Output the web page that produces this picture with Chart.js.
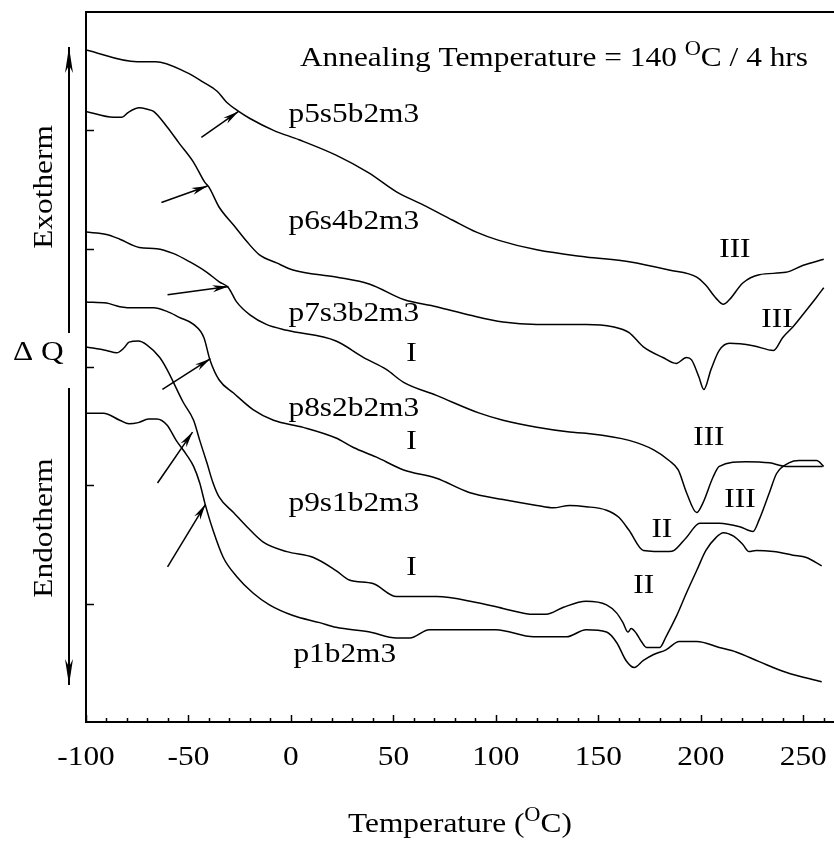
<!DOCTYPE html>
<html>
<head>
<meta charset="utf-8">
<script src="https://cdn.jsdelivr.net/npm/chart.js@4.4.1/dist/chart.umd.min.js"></script>
<style>
  html, body { margin: 0; padding: 0; background: #fff; }
  #wrap { width: 834px; height: 841px; }
</style>
</head>
<body>
<div id="wrap"><canvas id="dscChart" width="834" height="841"></canvas></div>
<script>
// axis ticks
const tempTicks = [-100, -50, 0, 50, 100, 150, 200, 250];
const heatTicks = [10, 20, 30, 40, 50];

// DSC traces, temperature (C) and heat flow (arbitrary, shifted per sample)
const tP5S5 = [-100, -75, -66, -51, -43, -36, -31.5, -25.5, -20, -8.5, 4, 22, 38, 51.5, 64.5, 79, 90.5, 101.5, 120, 144, 165, 184.5, 198, 202.5, 207.5, 211, 214, 220.5, 228.5, 241.5, 250, 260];
const qP5S5 = [56.8, 55.8, 55.8, 54.9, 54.1, 53.3, 52.4, 51.6, 51.0, 50.0, 49.2, 47.9, 46.4, 44.8, 43.7, 42.4, 41.4, 40.7, 39.9, 39.3, 38.9, 38.2, 37.6, 36.9, 35.8, 35.3, 35.7, 37.1, 37.8, 38.0, 38.6, 39.1];

const tP6S4 = [-100, -86.5, -82.5, -79.5, -74, -70.5, -67, -60.5, -54.5, -47.5, -42, -40, -35, -28, -21.5, -15.5, -7, 1, 22, 38.5, 55, 71, 87, 103.5, 120, 144, 157, 165, 172, 181.5, 188, 193, 195.5, 199, 201.5, 205, 209, 214, 225.5, 235.5, 240, 245, 251.5, 256.5, 260];
const qP6S4 = [51.6, 51.1, 51.1, 51.5, 51.9, 51.8, 51.6, 50.3, 48.9, 47.3, 45.6, 45.2, 43.5, 42.0, 40.6, 39.5, 38.8, 38.2, 37.6, 37.0, 35.7, 35.1, 34.4, 33.8, 33.6, 33.6, 33.4, 32.9, 31.7, 30.8, 30.3, 30.8, 30.6, 29.2, 28.1, 29.8, 31.4, 32.0, 31.8, 31.4, 32.5, 33.4, 34.8, 35.9, 36.7];

const tP7S3 = [-100, -90, -83.5, -74, -65.5, -57.5, -49.5, -41, -35, -30.5, -26.5, -20, -12, -2, 22, 35.5, 46.5, 55, 71, 92, 103.5, 120, 136, 144, 165, 177, 184.5, 189, 193, 198, 201, 206, 209, 222, 233.5, 241.5, 251, 259.5];
const qP7S3 = [41.4, 41.2, 40.8, 40.1, 40.0, 39.6, 38.9, 38.0, 37.2, 36.7, 35.5, 34.4, 33.6, 33.1, 32.2, 30.8, 29.8, 28.7, 27.6, 26.1, 25.5, 24.9, 24.5, 24.4, 23.8, 23.0, 22.1, 21.3, 19.4, 17.7, 18.5, 20.7, 21.6, 22.0, 21.9, 21.6, 21.6, 21.6];

const tP8S2 = [-100, -90, -83.5, -75.5, -67, -60.5, -54.5, -47.5, -42.5, -39.5, -35, -28, -18.5, -8.5, 6, 22, 30.5, 41.5, 55, 71, 87, 103.5, 120, 128, 136, 144, 154, 160, 165, 172, 184.5, 187, 193, 199.5, 209, 219, 225.5, 228.5, 233.5, 237, 243, 248, 256.5, 260];
const qP8S2 = [35.5, 35.4, 35.1, 35.0, 35.0, 34.7, 34.2, 33.6, 32.5, 30.6, 28.9, 27.8, 26.4, 25.5, 24.9, 24.0, 23.2, 22.4, 21.3, 20.6, 19.4, 18.8, 18.3, 18.1, 18.3, 18.2, 17.9, 17.3, 16.2, 14.5, 14.4, 14.5, 15.6, 16.8, 16.8, 16.5, 16.1, 17.1, 19.4, 21.0, 21.9, 22.1, 22.1, 21.6];

const tP9S1 = [-100, -90, -85, -81.5, -79, -74.5, -70.5, -64, -60.5, -52.5, -47.5, -44.5, -41, -38, -35, -28, -21.5, -13.5, -2, 11, 22, 28.5, 40, 51.5, 71, 90.5, 103.5, 118.5, 124.5, 133, 144, 154, 159, 162, 164.5, 166, 168.5, 171, 173.5, 180, 183, 188, 193, 198, 202.5, 207.5, 211, 216, 220.5, 223.5, 227, 235.5, 245, 251.5, 259];
const qP9S1 = [31.7, 31.4, 31.2, 31.6, 32.1, 32.2, 31.9, 30.8, 29.8, 27.0, 25.5, 23.8, 21.9, 20.2, 19.0, 17.7, 16.5, 15.2, 14.4, 13.9, 12.8, 12.0, 11.7, 10.6, 10.6, 10.1, 9.6, 9.1, 9.1, 9.7, 10.2, 9.9, 9.2, 8.4, 7.6, 7.9, 7.5, 6.8, 6.3, 6.3, 7.2, 8.9, 10.9, 12.8, 14.5, 15.6, 16.0, 15.7, 15.0, 14.4, 14.5, 14.4, 14.1, 13.9, 13.2];

const tP1 = [-100, -91.5, -83.5, -79, -74.5, -69.5, -65.5, -60.5, -56, -51, -47.5, -44.5, -42, -38, -33, -26.5, -18.5, -10.5, 1, 14, 22, 38.5, 51.5, 58, 67.5, 100, 118.5, 134.5, 144, 154, 159, 163.5, 167.5, 172, 177, 183, 189.5, 198, 209, 217.5, 228.5, 241.5, 259];
const qP1 = [26.1, 26.1, 25.5, 25.2, 25.3, 25.6, 25.6, 25.1, 23.8, 22.6, 21.6, 20.2, 18.5, 16.2, 13.9, 12.3, 10.9, 9.9, 9.0, 8.4, 8.0, 7.6, 7.1, 7.1, 7.8, 7.8, 7.2, 7.2, 7.8, 7.6, 6.7, 5.2, 4.6, 5.2, 5.7, 6.1, 6.8, 6.8, 6.3, 5.9, 5.1, 4.2, 3.4];

const curves = [
    { name: 'p5s5b2m3', t: tP5S5, q: qP5S5 },
    { name: 'p6s4b2m3', t: tP6S4, q: qP6S4 },
    { name: 'p7s3b2m3', t: tP7S3, q: qP7S3 },
    { name: 'p8s2b2m3', t: tP8S2, q: qP8S2 },
    { name: 'p9s1b2m3', t: tP9S1, q: qP9S1 },
    { name: 'p1b2m3', t: tP1, q: qP1 }
];

// labels inside the plot: [text, temperature, heat flow at baseline]
const plotLabels = [
    ['p5s5b2m3', -1.2, 50.7], ['p6s4b2m3', -1.2, 41.7], ['p7s3b2m3', -1.2, 33.9],
    ['p8s2b2m3', -1.2, 25.9], ['p9s1b2m3', -1.2, 17.8], ['p1b2m3', 1.2, 5.1],
    ['I', 56.3, 30.5], ['I', 56.3, 23.1], ['I', 56.3, 12.4],
    ['III', 209, 39.3], ['III', 229.5, 33.4], ['III', 196.3, 23.4], ['III', 211.5, 18.2],
    ['II', 175.9, 15.6], ['II', 167.1, 10.9]
];
// Tg arrows: [t tail, q tail, t tip, q tip]
const tgArrows = [
    [-43.7, 49.4, -25.6, 51.6], [-63.2, 43.9, -40.7, 45.3], [-60.2, 36.1, -30.5, 36.8],
    [-62.7, 28.1, -39.3, 30.7], [-65.1, 20.2, -48.0, 24.5], [-60.2, 13.1, -41.7, 18.4]
];

const FONT = '"Liberation Serif", "Times New Roman", serif';
const STRETCH = 1.12;

function drawText(ctx, str, x, y, align, angle) {
    ctx.save();
    ctx.translate(x, y);
    if (angle) ctx.rotate(angle);
    ctx.scale(STRETCH, 1);
    ctx.textAlign = align || 'left';
    ctx.textBaseline = 'alphabetic';
    ctx.fillText(str, 0, 0);
    ctx.restore();
}

// text with a superscript "O" for degrees
function drawSupText(ctx, parts, x, y, align) {
    let total = 0;
    parts.forEach(p => {
        ctx.font = (p.sup ? '20px ' : '28px ') + FONT;
        total += ctx.measureText(p.t).width * STRETCH;
    });
    let cx = align === 'center' ? x - total / 2 : x;
    parts.forEach(p => {
        ctx.font = (p.sup ? '20px ' : '28px ') + FONT;
        drawText(ctx, p.t, cx, p.sup ? y - 11 : y, 'left');
        cx += ctx.measureText(p.t).width * STRETCH;
    });
}

function arrow(ctx, x1, y1, x2, y2, headLen, headW) {
    const a = Math.atan2(y2 - y1, x2 - x1);
    ctx.beginPath();
    ctx.moveTo(x1, y1);
    ctx.lineTo(x2, y2);
    ctx.stroke();
    ctx.save();
    ctx.translate(x2, y2);
    ctx.rotate(a);
    ctx.beginPath();
    ctx.moveTo(0, 0);
    ctx.lineTo(-headLen, -headW);
    ctx.lineTo(-headLen * 0.7, 0);
    ctx.lineTo(-headLen, headW);
    ctx.closePath();
    ctx.fill();
    ctx.restore();
}

const decorPlugin = {
    id: 'decor',
    afterDraw(chart) {
        const { ctx, chartArea: area, scales: { x, y } } = chart;
        ctx.save();
        ctx.strokeStyle = '#000';
        ctx.fillStyle = '#000';

        // top frame line
        ctx.lineWidth = 2;
        ctx.beginPath();
        ctx.moveTo(area.left, area.top);
        ctx.lineTo(area.right, area.top);
        ctx.stroke();

        // inward ticks
        ctx.lineWidth = 1.5;
        for (let v = tempTicks[0]; v <= x.max; v += 10) {
            const px = Math.round(x.getPixelForValue(v)) + 0.5;
            const len = v % 50 === 0 ? 7 : 4;
            ctx.beginPath();
            ctx.moveTo(px, area.bottom);
            ctx.lineTo(px, area.bottom - len);
            ctx.stroke();
        }
        heatTicks.forEach(v => {
            const py = Math.round(y.getPixelForValue(v)) + 0.5;
            ctx.beginPath();
            ctx.moveTo(area.left, py);
            ctx.lineTo(area.left + 8, py);
            ctx.stroke();
        });

        // tick labels
        ctx.font = '28px ' + FONT;
        tempTicks.forEach(v => {
            drawText(ctx, String(v), x.getPixelForValue(v), area.bottom + 43, 'center');
        });

        // axis title and annotation title
        drawSupText(ctx, [{ t: 'Temperature (' }, { t: 'O', sup: true }, { t: 'C)' }],
            (area.left + area.right) / 2, area.bottom + 110, 'center');
        drawSupText(ctx, [{ t: 'Annealing Temperature = 140 ' }, { t: 'O', sup: true }, { t: 'C / 4 hrs' }],
            x.getPixelForValue(4.4), y.getPixelForValue(55.4), 'left');

        // curve labels and transition marks
        ctx.font = '28px ' + FONT;
        plotLabels.forEach(([txt, t, q]) => {
            drawText(ctx, txt, x.getPixelForValue(t), y.getPixelForValue(q), 'left');
        });

        // Tg arrows
        ctx.lineWidth = 1.5;
        tgArrows.forEach(([t1, q1, t2, q2]) => {
            arrow(ctx, x.getPixelForValue(t1), y.getPixelForValue(q1),
                x.getPixelForValue(t2), y.getPixelForValue(q2), 16, 3.5);
        });

        // exotherm / endotherm side labels
        ctx.font = '28px ' + FONT;
        drawText(ctx, 'Exotherm', 52, 187, 'center', -Math.PI / 2);
        drawText(ctx, 'Endotherm', 52, 528, 'center', -Math.PI / 2);
        drawText(ctx, '\u0394 Q', 13, 360, 'left');
        ctx.lineWidth = 2;
        arrow(ctx, 69, 333, 69, 47, 26, 4);
        arrow(ctx, 69, 388, 69, 685, 26, 4);

        ctx.restore();
    }
};

const ctx = document.getElementById('dscChart').getContext('2d');
const dscChart = new Chart(ctx, {
    type: 'line',
    data: {
        datasets: curves.map(c => ({
            label: c.name,
            data: c.t.map((t, i) => ({ x: t, y: c.q[i] })),
            borderColor: '#000',
            borderWidth: 1.5,
            pointRadius: 0,
            cubicInterpolationMode: 'monotone',
            fill: false
        }))
    },
    options: {
        responsive: false,
        animation: false,
        layout: { padding: { left: 86, top: 12, right: 0, bottom: 119 } },
        plugins: {
            legend: { display: false },
            tooltip: { enabled: false }
        },
        scales: {
            x: {
                type: 'linear',
                min: -100,
                max: 265,
                grid: { display: false, drawTicks: false },
                ticks: { display: false },
                border: { display: true, color: '#000', width: 2 },
                afterBuildTicks: s => { s.ticks = tempTicks.map(v => ({ value: v })); }
            },
            y: {
                type: 'linear',
                min: 0,
                max: 60,
                grid: { display: false, drawTicks: false },
                ticks: { display: false },
                border: { display: true, color: '#000', width: 2 },
                afterBuildTicks: s => { s.ticks = heatTicks.map(v => ({ value: v })); }
            }
        }
    },
    plugins: [decorPlugin]
});
</script>
</body>
</html>
